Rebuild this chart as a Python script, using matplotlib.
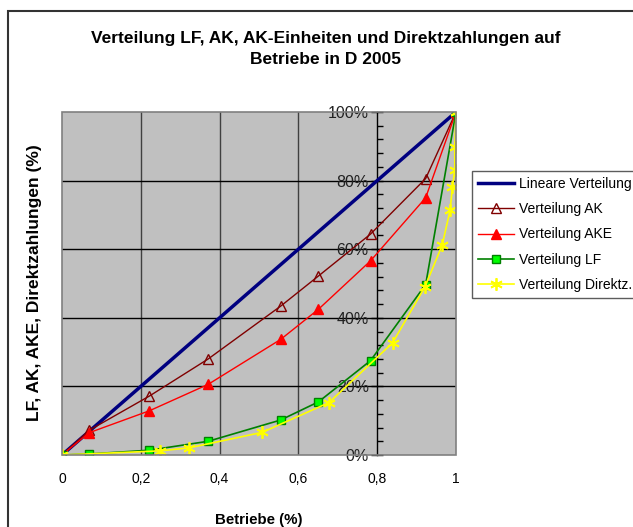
import numpy as np
import matplotlib
matplotlib.use("Agg")
import matplotlib.pyplot as plt
from matplotlib.patches import Rectangle
from matplotlib.ticker import MultipleLocator, FuncFormatter

plt.rcParams['font.family'] = ['Liberation Sans', 'DejaVu Sans']

# data
x_lin = [0.0, 1.0]
y_lin = [0.0, 1.0]

x_betr = [0.0, 0.069, 0.222, 0.371, 0.555, 0.651, 0.783, 0.923, 1.0]
y_ak = [0.0, 0.072, 0.172, 0.280, 0.434, 0.522, 0.644, 0.806, 1.0]
y_ake = [0.0, 0.065, 0.129, 0.206, 0.337, 0.425, 0.566, 0.750, 1.0]
y_lf = [0.0, 0.003, 0.014, 0.040, 0.102, 0.155, 0.275, 0.497, 1.0]

x_dz = [0.0, 0.249, 0.323, 0.508, 0.678, 0.839, 0.921, 0.965, 0.985, 0.991, 0.997, 0.997, 1.0]
y_dz = [0.0, 0.012, 0.021, 0.066, 0.153, 0.327, 0.490, 0.612, 0.714, 0.782, 0.831, 0.897, 1.0]

title = "Verteilung LF, AK, AK-Einheiten und Direktzahlungen auf\nBetriebe in D 2005"
labels = ["Lineare Verteilung", "Verteilung AK", "Verteilung AKE",
          "Verteilung LF", "Verteilung Direktz."]


def x_fmt(v, p):
    v = round(v, 2)
    if v in (0, 1):
        return f"{v:.0f}"
    return f"{v:.1f}".replace('.', ',')


fig = plt.figure(figsize=(6.33, 5.27), dpi=100)
W, H = 633, 527

# chart frame
fig.patches.append(Rectangle((8 / W, -0.05), 1.1, 1 - 11 / H + 0.05,
                             transform=fig.transFigure, fill=False,
                             edgecolor='#333333', linewidth=1.5))

ax = fig.add_axes([62 / W, 1 - 455 / H, 394 / W, 343 / H])
ax.set_facecolor('#C0C0C0')
ax.set_xlim(0, 1)
ax.set_ylim(0, 1)

for s in ['top', 'right', 'bottom']:
    ax.spines[s].set_visible(False)
ax.add_patch(Rectangle((0, 0), 1, 1, transform=ax.transAxes, fill=False,
                       edgecolor='#808080', linewidth=1.2, zorder=5, clip_on=False))

# grid
for gx in [0.2, 0.4, 0.6]:
    ax.axvline(gx, color='#404040', linewidth=1.0, zorder=1)
for gy in [0.2, 0.4, 0.6, 0.8]:
    ax.axhline(gy, color='black', linewidth=1.0, zorder=1)

# y axis crossing at 0.8
ax.spines['left'].set_position(('data', 0.8))
ax.spines['left'].set_color('black')
ax.spines['left'].set_linewidth(1.0)
ax.yaxis.set_major_locator(MultipleLocator(0.2))
ax.yaxis.set_minor_locator(MultipleLocator(0.04))
ax.yaxis.set_major_formatter(FuncFormatter(lambda v, p: f"{v * 100:.0f}%"))
ax.tick_params(axis='y', which='major', direction='inout', length=8, width=1,
               labelsize=11.5, pad=2, labelcolor='#222222')
ax.tick_params(axis='y', which='minor', direction='in', length=4, width=1)

ax.xaxis.set_major_locator(MultipleLocator(0.2))
ax.xaxis.set_major_formatter(FuncFormatter(x_fmt))
ax.tick_params(axis='x', length=0, labelsize=10, pad=12)

ax.plot(x_lin, y_lin, color='#000080', linewidth=2.5, zorder=3, label=labels[0])
ax.plot(x_betr, y_ak, color='#800000', linewidth=1.0, marker='^', markersize=7,
        markerfacecolor='none', markeredgecolor='#800000', zorder=4, label=labels[1])
ax.plot(x_betr, y_ake, color='#FF0000', linewidth=1.0, marker='^', markersize=7,
        markerfacecolor='#FF0000', markeredgecolor='#FF0000', zorder=4, label=labels[2])
ax.plot(x_betr, y_lf, color='#008000', linewidth=1.2, marker='s', markersize=6,
        markerfacecolor='#00FF00', markeredgecolor='#008000', zorder=4, label=labels[3])
ax.plot(x_dz, y_dz, color='#FFFF00', linewidth=1.2, marker=(6, 2, 0), markersize=9,
        markeredgecolor='#FFFF00', markeredgewidth=1.3, zorder=4, label=labels[4])

ax.set_xlabel("Betriebe (%)", fontsize=10.8, fontweight='bold', labelpad=20)
fig.text(35 / W, 1 - 283 / H, "LF, AK, AKE, Direktzahlungen (%)", rotation=90,
         fontsize=12.5, fontweight='bold', ha='center', va='center')

fig.text(326 / W, 1 - 48.5 / H, title, ha='center', va='center', fontsize=12.5,
         fontweight='bold', linespacing=1.5)

leg = fig.legend(loc='upper left', bbox_to_anchor=(472 / W, 1 - 171 / H),
                 fontsize=10, frameon=True, fancybox=False, borderpad=0.45,
                 handlelength=2.6, handletextpad=0.3, labelspacing=0.8,
                 borderaxespad=0)
leg.get_frame().set_edgecolor('#333333')
leg.get_frame().set_linewidth(1.0)

fig.savefig("out.png", dpi=100)
